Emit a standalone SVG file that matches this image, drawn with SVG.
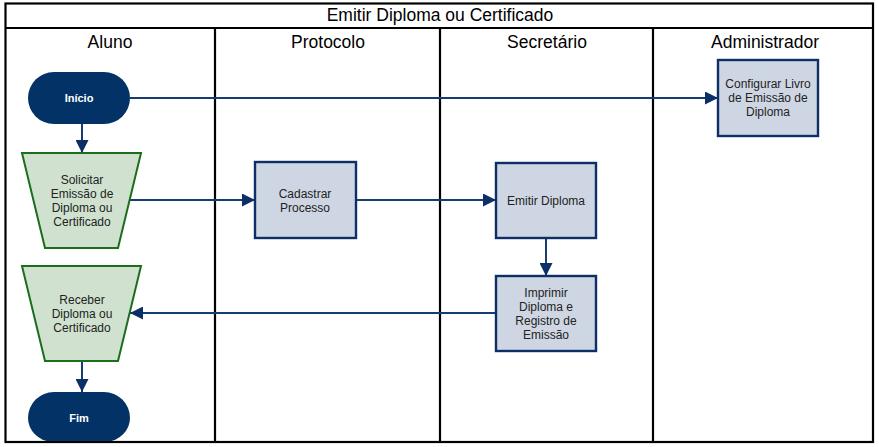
<svg xmlns="http://www.w3.org/2000/svg" width="879" height="447" viewBox="0 0 879 447">
<style>
.frame{fill:none;stroke:#000;stroke-width:2.2}
.title{font-family:"Liberation Sans",Arial,sans-serif;font-size:17.5px;fill:#000;text-anchor:middle}
.pill{fill:#033366}
.pilltxt{font-family:"Liberation Sans",Arial,sans-serif;font-size:11px;font-weight:bold;fill:#fff;text-anchor:middle}
.trap{fill:#d0e2cf;stroke:#1b6e1b;stroke-width:2}
.box{fill:#cfd6e3;stroke:#0b2f66;stroke-width:2.4}
.txt{font-family:"Liberation Sans",Arial,sans-serif;font-size:12px;fill:#222;text-anchor:middle}
.conn{stroke:#163c70;stroke-width:2;fill:none;marker-end:url(#arr)}
</style>
<defs>
<marker id="arr" markerUnits="userSpaceOnUse" markerWidth="13" markerHeight="13" refX="13" refY="6.5" orient="auto">
<path d="M0,0 L13,6.5 L0,13 z" fill="#0b2f66"/>
</marker>
</defs>
<rect width="879" height="447" fill="#fff"/>
<g id="lanes">
<rect class="frame" x="5.5" y="3.5" width="867.5" height="438.5"/>
<line class="frame" x1="5.5" y1="28" x2="873" y2="28"/>
<line class="frame" x1="215" y1="28" x2="215" y2="442"/>
<line class="frame" x1="440" y1="28" x2="440" y2="442"/>
<line class="frame" x1="653" y1="28" x2="653" y2="442"/>
<text class="title" x="440" y="21">Emitir Diploma ou Certificado</text>
<text class="title" x="110" y="48">Aluno</text>
<text class="title" x="328" y="48">Protocolo</text>
<text class="title" x="547" y="48">Secretário</text>
<text class="title" x="765" y="48">Administrador</text>
</g>
<g id="connectors">
<line class="conn" x1="130" y1="98" x2="718" y2="98"/>
<line class="conn" x1="82" y1="124" x2="82" y2="153"/>
<line class="conn" x1="130" y1="200" x2="255" y2="200"/>
<line class="conn" x1="356" y1="200" x2="496" y2="200"/>
<line class="conn" x1="546" y1="238" x2="546" y2="276"/>
<line class="conn" x1="496" y1="313" x2="130" y2="313"/>
<line class="conn" x1="82" y1="361" x2="82" y2="392"/>
</g>
<g id="inicio">
<rect class="pill" x="28" y="72" width="102" height="52" rx="26"/>
<text class="pilltxt" x="79" y="102">Início</text>
</g>
<g id="configurar">
<rect class="box" x="718" y="60" width="100" height="76"/>
<text class="txt" x="768" y="88">Configurar Livro</text>
<text class="txt" x="768" y="102">de Emissão de</text>
<text class="txt" x="768" y="116">Diploma</text>
</g>
<g id="solicitar">
<polygon class="trap" points="22,153 141,153 118,248 45,248"/>
<text class="txt" x="82" y="184">Solicitar</text>
<text class="txt" x="82" y="198">Emissão de</text>
<text class="txt" x="82" y="212">Diploma ou</text>
<text class="txt" x="82" y="226">Certificado</text>
</g>
<g id="cadastrar">
<rect class="box" x="255" y="162" width="101" height="76"/>
<text class="txt" x="305" y="198">Cadastrar</text>
<text class="txt" x="305" y="212">Processo</text>
</g>
<g id="emitir">
<rect class="box" x="496" y="163" width="100" height="75"/>
<text class="txt" x="546" y="205">Emitir Diploma</text>
</g>
<g id="imprimir">
<rect class="box" x="496" y="276" width="100" height="75"/>
<text class="txt" x="546" y="297">Imprimir</text>
<text class="txt" x="546" y="311">Diploma e</text>
<text class="txt" x="546" y="325">Registro de</text>
<text class="txt" x="546" y="339">Emissão</text>
</g>
<g id="receber">
<polygon class="trap" points="22,266 141,266 118,361 45,361"/>
<text class="txt" x="82" y="304">Receber</text>
<text class="txt" x="82" y="318">Diploma ou</text>
<text class="txt" x="82" y="332">Certificado</text>
</g>
<g id="fim">
<path class="pill" d="M54,392 H104 A26,26 0 0 1 130,418 A26,24 0 0 1 106,442 H52 A26,24 0 0 1 28,418 A26,26 0 0 1 54,392 Z"/>
<text class="pilltxt" x="79" y="422">Fim</text>
</g>
<line class="frame" x1="5.5" y1="442" x2="873" y2="442"/>
</svg>
